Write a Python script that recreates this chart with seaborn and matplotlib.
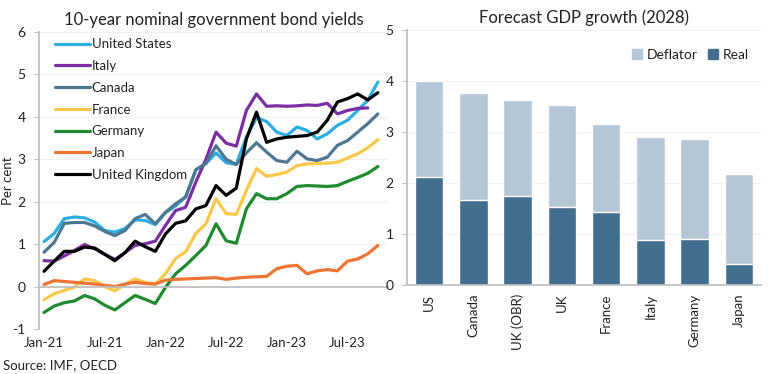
import numpy as np
import pandas as pd
import matplotlib
matplotlib.use("Agg")
import matplotlib.pyplot as plt
import matplotlib.patches as mpatches
import seaborn as sns

# ---------------- data ----------------
tick_labels = ["Jan-21", "Jul-21", "Jan-22", "Jul-22", "Jan-23", "Jul-23"]

us = [1.06, 1.25, 1.60, 1.64, 1.62, 1.52, 1.32, 1.28, 1.37, 1.57, 1.56, 1.46,
      1.74, 1.90, 2.12, 2.75, 2.90, 3.15, 2.92, 2.88, 3.52, 3.98, 3.89, 3.64,
      3.56, 3.76, 3.68, 3.48, 3.60, 3.80, 3.92, 4.15, 4.39, 4.82]
italy = [0.61, 0.60, 0.72, 0.85, 0.99, 0.89, 0.76, 0.64, 0.80, 0.97, 1.01, 1.07,
         1.44, 1.79, 1.87, 2.46, 3.00, 3.64, 3.38, 3.31, 4.15, 4.54, 4.25, 4.26,
         4.25, 4.26, 4.28, 4.27, 4.32, 4.07, 4.15, 4.20, 4.21]
canada = [0.81, 1.04, 1.49, 1.51, 1.51, 1.43, 1.30, 1.20, 1.32, 1.60, 1.70, 1.48,
          1.75, 1.95, 2.11, 2.75, 2.90, 3.32, 3.00, 2.88, 3.15, 3.39, 3.17, 2.97,
          2.93, 3.19, 3.01, 2.97, 3.05, 3.33, 3.44, 3.64, 3.84, 4.07]
france = [-0.31, -0.17, -0.09, -0.01, 0.18, 0.14, 0.00, -0.10, 0.05, 0.18, 0.10, 0.06,
          0.30, 0.66, 0.82, 1.25, 1.48, 2.07, 1.72, 1.70, 2.26, 2.78, 2.60, 2.64,
          2.70, 2.85, 2.89, 2.90, 2.91, 2.93, 3.03, 3.13, 3.27, 3.46]
germany = [-0.61, -0.46, -0.38, -0.34, -0.21, -0.29, -0.44, -0.55, -0.38, -0.21, -0.30, -0.40,
           -0.02, 0.30, 0.50, 0.73, 0.97, 1.48, 1.08, 1.02, 1.83, 2.19, 2.07, 2.07,
           2.19, 2.36, 2.38, 2.37, 2.36, 2.38, 2.48, 2.57, 2.67, 2.83]
japan = [0.05, 0.14, 0.12, 0.10, 0.08, 0.06, 0.03, 0.00, 0.06, 0.10, 0.07, 0.06,
         0.15, 0.17, 0.18, 0.19, 0.20, 0.21, 0.17, 0.20, 0.22, 0.23, 0.24, 0.42,
         0.48, 0.50, 0.30, 0.37, 0.40, 0.37, 0.60, 0.65, 0.77, 0.97]
uk = [0.36, 0.60, 0.83, 0.83, 0.93, 0.91, 0.76, 0.61, 0.80, 1.07, 0.94, 0.83,
      1.24, 1.49, 1.55, 1.83, 1.91, 2.38, 2.15, 2.32, 3.48, 4.11, 3.40, 3.48,
      3.52, 3.54, 3.56, 3.64, 3.92, 4.35, 4.43, 4.54, 4.40, 4.57]

series_names = ["United States", "Italy", "Canada", "France", "Germany", "Japan", "United Kingdom"]
series_values = [us, italy, canada, france, germany, japan, uk]
series_colors = ["#2AAEE3", "#7B2FA3", "#4E7892", "#FAC74A", "#1F8A2E", "#EE7433", "#000000"]

gdp_countries = ["US", "Canada", "UK (OBR)", "UK", "France", "Italy", "Germany", "Japan"]
gdp_real = [2.12, 1.67, 1.75, 1.53, 1.44, 0.89, 0.91, 0.41]
gdp_deflator = [1.88, 2.09, 1.88, 2.00, 1.72, 2.02, 1.96, 1.77]

# ---------------- style ----------------
sns.set_theme(style="white")
plt.rcParams["font.family"] = ["Lato", "DejaVu Sans"]
axis_grey = "#BFBFBF"
text_col = "#222222"

fig = plt.figure(figsize=(7.68, 3.74), dpi=100)
ax1 = fig.add_axes([39 / 768, 1 - 329 / 374, 349 / 768, (329 - 32) / 374])
ax2 = fig.add_axes([407 / 768, 1 - 285.3 / 374, 354 / 768, (285.3 - 30) / 374])

# ---------------- left: line chart ----------------
rows = []
for name, vals in zip(series_names, series_values):
    for i, v in enumerate(vals):
        rows.append({"idx": i, "value": v, "country": name})
df = pd.DataFrame(rows)

for y in range(-1, 7):
    ax1.axhline(y, color="#F0F0F0", lw=0.8, zorder=0)

sns.lineplot(data=df, x="idx", y="value", hue="country", hue_order=series_names,
             palette=dict(zip(series_names, series_colors)), linewidth=2.3,
             ax=ax1, legend=True)

ax1.set_xlim(-0.5, 34.0)
ax1.set_ylim(-1, 6)
ax1.set_yticks(range(-1, 7))
ax1.set_yticklabels([str(v) for v in range(-1, 7)])
major = list(range(0, 34, 6))
ax1.set_xticks(major)
ax1.set_xticklabels(tick_labels)
ax1.set_xticks([m - 0.5 for m in range(0, 34, 6)] + [33.5], minor=True)
ax1.tick_params(axis="x", which="major", length=0, pad=36, labelsize=9.5, colors=text_col)
ax1.tick_params(axis="x", which="minor", length=3.5, width=0.8, color=axis_grey, direction="out")
ax1.tick_params(axis="y", which="major", length=3.5, width=0.8, color=axis_grey,
                direction="out", labelsize=10, colors=text_col, left=True, pad=6)
for s in ["top", "right"]:
    ax1.spines[s].set_visible(False)
ax1.spines["bottom"].set_position(("data", 0))
ax1.spines["bottom"].set_color(axis_grey)
ax1.spines["left"].set_color(axis_grey)
ax1.set_xlabel("")
ax1.set_ylabel("Per cent", fontsize=9.5, color=text_col)
ax1.yaxis.set_label_coords(-0.072, 0.5)
ax1.set_title("10-year nominal government bond yields", fontsize=12, color=text_col, pad=5)

handles, labels = ax1.get_legend_handles_labels()
leg = ax1.legend(handles, labels, loc="upper left", bbox_to_anchor=(0.02, 1.01), frameon=False,
                 fontsize=9.5, handlelength=2.6, handletextpad=0.15, labelspacing=0.74,
                 borderaxespad=0.3)
for t in leg.get_texts():
    t.set_color(text_col)

# ---------------- right: stacked bars ----------------
gdp_total = [r + d for r, d in zip(gdp_real, gdp_deflator)]
bdf = pd.DataFrame({"country": gdp_countries, "real": gdp_real, "total": gdp_total})

for y in range(0, 6):
    ax2.axhline(y, color="#F0F0F0", lw=0.8, zorder=0)

sns.barplot(data=bdf, x="country", y="total", color="#B5C7D6", saturation=1,
            width=0.64, ax=ax2, order=gdp_countries)
sns.barplot(data=bdf, x="country", y="real", color="#426F8E", saturation=1,
            width=0.64, ax=ax2, order=gdp_countries)

ax2.set_xlim(-0.5, len(gdp_countries) - 0.5)
ax2.set_ylim(0, 5)
ax2.set_yticks(range(0, 6))
ax2.set_xticks(np.arange(len(gdp_countries)))
ax2.set_xticklabels(gdp_countries, rotation=90)
ax2.set_xticks(np.arange(len(gdp_countries) + 1) - 0.5, minor=True)
ax2.tick_params(axis="x", which="major", length=0, pad=6, labelsize=9.5, colors=text_col)
ax2.tick_params(axis="x", which="minor", length=3.5, width=0.8, color=axis_grey, direction="out")
ax2.tick_params(axis="y", length=3.5, width=0.8, color=axis_grey, direction="out",
                labelsize=10, colors=text_col, left=True, pad=6)
for s in ["top", "right"]:
    ax2.spines[s].set_visible(False)
ax2.spines["bottom"].set_color(axis_grey)
ax2.spines["left"].set_color(axis_grey)
ax2.set_xlabel("")
ax2.set_ylabel("")
ax2.set_title("Forecast GDP growth (2028)", fontsize=12, color=text_col, pad=5)

leg2 = ax2.legend(handles=[mpatches.Patch(color="#B5C7D6", label="Deflator"),
                           mpatches.Patch(color="#426F8E", label="Real")],
                  loc="upper right", bbox_to_anchor=(1.0, 0.975), ncol=2, frameon=False,
                  fontsize=10, handlelength=0.7, handleheight=0.7, handletextpad=0.3,
                  columnspacing=0.8)
for t in leg2.get_texts():
    t.set_color(text_col)

fig.text(3 / 768, 1 - 365 / 374, "Source: IMF, OECD", fontsize=9.5, color=text_col, va="center")

fig.savefig("out.png", dpi=100)
